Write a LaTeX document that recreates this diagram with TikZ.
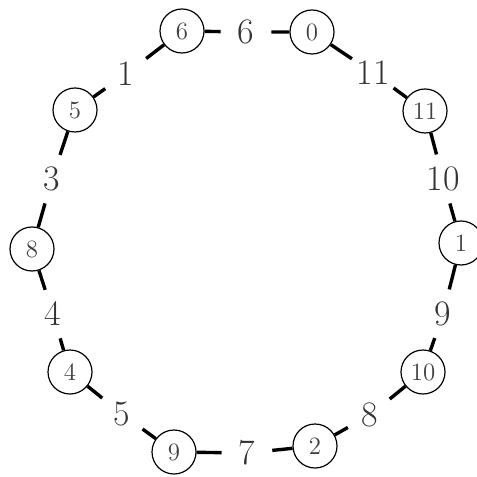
\documentclass[tikz,border=0pt]{standalone}
\usepackage{tikz}
\begin{document}
\begin{tikzpicture}[
  x=0.5bp, y=-0.5bp,
  vert/.style={draw, circle, line width=0.6pt, minimum size=22bp,
               inner sep=0pt, fill=white, text=black!75,
               font=\fontsize{12.5}{12.5}\selectfont},
  wlab/.style={circle, minimum size=25bp, inner sep=0pt, text=black!80,
               font=\fontsize{18}{18}\selectfont},
  edge/.style={line width=1.7pt},
]
\useasboundingbox (0,0) rectangle (477,477);

% ---- Vertices ----
\node[vert] (v0)  at (312, 32)  {0};
\node[vert] (v11) at (425,111)  {11};
\node[vert] (v1)  at (461,243)  {1};
\node[vert] (v10) at (423,372)  {10};
\node[vert] (v2)  at (315,446)  {2};
\node[vert] (v9)  at (174,452)  {9};
\node[vert] (v4)  at ( 70,372)  {4};
\node[vert] (v8)  at ( 32,249)  {8};
\node[vert] (v5)  at ( 75,110)  {5};
\node[vert] (v6)  at (182, 31)  {6};

% ---- Edge labels ----
\node[wlab] (e6)  at (246, 32)  {6};
\node[wlab] (e11) at (373, 73)  {11};
\node[wlab] (e10) at (443,179)  {10};
\node[wlab] (e9)  at (443,314)  {9};
\node[wlab] (e8)  at (370,415)  {8};
\node[wlab] (e7)  at (247,453)  {7};
\node[wlab] (e5)  at (122,414)  {5};
\node[wlab] (e4)  at ( 53,314)  {4};
\node[wlab] (e3)  at ( 52,179)  {3};
\node[wlab] (e1)  at (126, 74)  {1};

% Edges around the cycle
\foreach \a/\l/\b in {v6/e6/v0, v0/e11/v11, v11/e10/v1, v1/e9/v10,
                      v10/e8/v2, v2/e7/v9, v9/e5/v4, v4/e4/v8,
                      v8/e3/v5, v5/e1/v6}
  \draw[edge] (\a) -- (\l) -- (\b);
\end{tikzpicture}
\end{document}
